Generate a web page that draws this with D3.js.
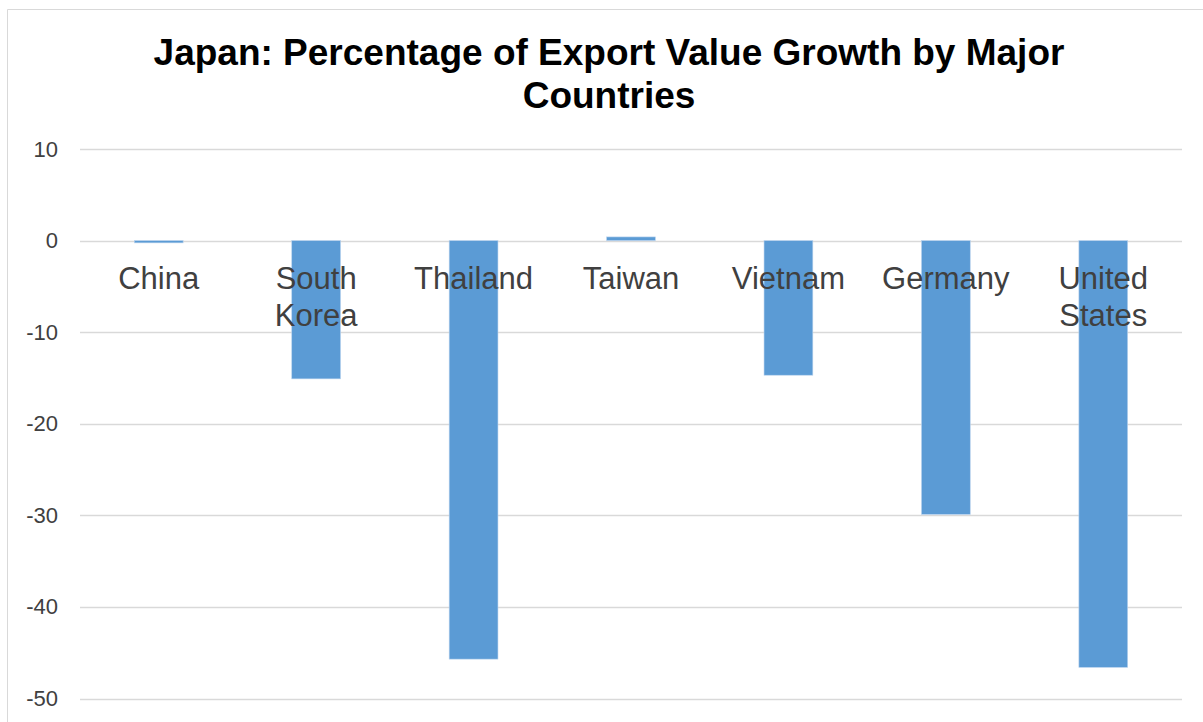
<!DOCTYPE html>
<html>
<head>
<meta charset="utf-8">
<script src="https://cdn.jsdelivr.net/npm/d3@7"></script>
<style>
  body { margin: 0; background: #fff; }
  svg { display: block; font-family: "Liberation Sans", Arial, sans-serif; }
</style>
</head>
<body>
<svg id="chart" width="1203" height="722"></svg>
<script>
// data
var countries = ["China", "South Korea", "Thailand", "Taiwan", "Vietnam", "Germany", "United States"];
var labelLines = [["China"], ["South", "Korea"], ["Thailand"], ["Taiwan"], ["Vietnam"], ["Germany"], ["United", "States"]];
var growth = [-0.25, -15.1, -45.7, 0.4, -14.7, -29.9, -46.6];
var yTicks = [10, 0, -10, -20, -30, -40, -50];
var titleLines = ["Japan: Percentage of Export Value Growth by Major", "Countries"];

var svg = d3.select("#chart");

// outer chart border (only top and left show in the frame)
svg.append("path")
    .attr("d", "M7.5,722 V9.5 H1203")
    .style("fill", "none")
    .style("stroke", "#d9d9d9")
    .style("stroke-width", "1px");

var left = 80, right = 1182;

var x = d3.scaleBand()
    .domain(countries)
    .range([left, right])
    .paddingInner(0.69)
    .paddingOuter(0.345);

var y = d3.scaleLinear()
    .domain([-50, 10])
    .range([698.5, 149]);

// gridlines
svg.append("g")
    .selectAll("line")
    .data(yTicks)
    .join("line")
    .attr("x1", left)
    .attr("x2", right)
    .attr("y1", d => Math.round(y(d)) + 0.5)
    .attr("y2", d => Math.round(y(d)) + 0.5)
    .style("stroke", "#d9d9d9")
    .style("stroke-width", "1.5px");

// y axis labels (plain hyphen for negatives, like the original)
var yAxis = svg.append("g")
    .attr("transform", "translate(" + left + ",0)")
    .call(d3.axisLeft(y).tickValues(yTicks).tickSize(0).tickPadding(22)
        .tickFormat(d => String(d)));
yAxis.select(".domain").remove();
yAxis.selectAll("text")
    .style("font-family", "'Liberation Sans', Arial, sans-serif")
    .style("font-size", "22px")
    .style("fill", "#404040");

// bars
svg.append("g")
    .selectAll("rect")
    .data(growth)
    .join("rect")
    .attr("x", (d, i) => x(countries[i]))
    .attr("width", x.bandwidth())
    .attr("y", d => y(Math.max(0, d)))
    .attr("height", d => Math.abs(y(d) - y(0)))
    .style("fill", "#5b9bd5")
    .style("stroke", "#bcd4ee")
    .style("stroke-width", "0.6px");

// category labels, drawn over the bars
var cat = svg.append("g")
    .selectAll("text")
    .data(countries)
    .join("text")
    .attr("x", d => x(d) + x.bandwidth() / 2)
    .attr("y", 289)
    .attr("text-anchor", "middle")
    .style("font-size", "31px")
    .style("fill", "#404040");
cat.each(function(d, i) {
    d3.select(this).selectAll("tspan")
        .data(labelLines[i])
        .join("tspan")
        .attr("x", x(d) + x.bandwidth() / 2)
        .attr("dy", (t, j) => j === 0 ? 0 : 37)
        .text(t => t);
});

// title
svg.append("text")
    .attr("x", 609)
    .attr("y", 65)
    .attr("text-anchor", "middle")
    .style("font-size", "37px")
    .style("font-weight", "bold")
    .style("fill", "#000")
    .selectAll("tspan")
    .data(titleLines)
    .join("tspan")
    .attr("x", 609)
    .attr("dy", (t, j) => j === 0 ? 0 : 43)
    .text(t => t);
</script>
</body>
</html>
